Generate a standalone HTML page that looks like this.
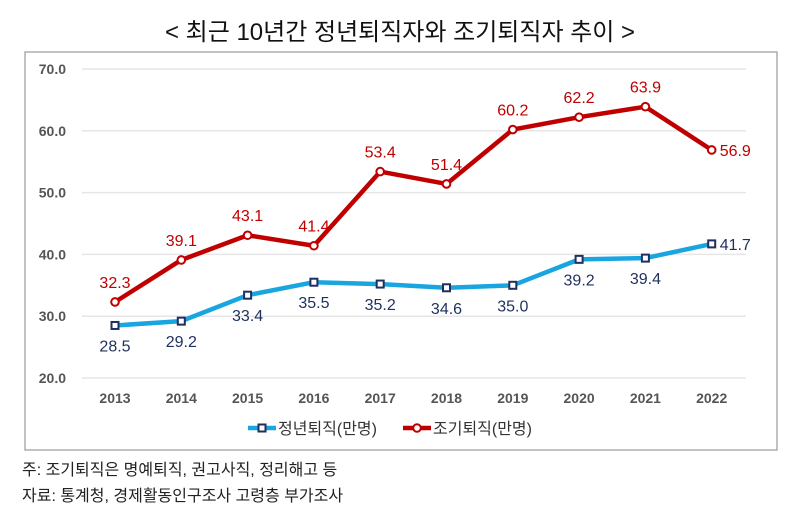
<!DOCTYPE html>
<html><head><meta charset="utf-8"><style>
body{margin:0;background:#fff;width:800px;height:518px;overflow:hidden;font-family:"Liberation Sans","Noto Sans CJK KR",sans-serif;}
.t{position:absolute;white-space:nowrap;}
</style></head><body>
<div class="t" style="left:0;width:800px;text-align:center;top:12px;font-size:24px;color:#111;">&lt; 최근 10년간 정년퇴직자와 조기퇴직자 추이 &gt;</div>
<svg width="800" height="518" style="position:absolute;left:0;top:0" id="chart">
<rect x="25" y="52" width="752" height="398" fill="#fff" stroke="#999" stroke-width="1.2"/>
</svg>
<div class="t" style="left:22px;top:456px;font-size:16px;color:#222;">주: 조기퇴직은 명예퇴직, 권고사직, 정리해고 등</div>
<div class="t" style="left:22px;top:482px;font-size:16px;color:#222;">자료: 통계청, 경제활동인구조사 고령층 부가조사</div>
<script>
const years=["2013","2014","2015","2016","2017","2018","2019","2020","2021","2022"];
const retire=[28.5,29.2,33.4,35.5,35.2,34.6,35.0,39.2,39.4,41.7];
const early=[32.3,39.1,43.1,41.4,53.4,51.4,60.2,62.2,63.9,56.9];
const yTicks=[20,30,40,50,60,70];
const svg=document.getElementById('chart');const NS='http://www.w3.org/2000/svg';
const x=i=>115+i*66.3;const y=v=>378-(v-20)*6.18;
function mk(t,a){const e=document.createElementNS(NS,t);for(const k in a)e.setAttribute(k,a[k]);svg.appendChild(e);return e;}
yTicks.forEach(v=>{const g=mk('line',{x1:82,x2:746,y1:y(v),y2:y(v),stroke:'#e6e6e6','stroke-width':1.5});


const t=mk('text',{x:66,y:y(v)+5,'text-anchor':'end','font-size':14,'font-weight':'bold',fill:'#555'});t.textContent=v.toFixed(1);

});
years.forEach((yr,i)=>{const t=mk('text',{x:x(i),y:403,'text-anchor':'middle','font-size':14,'font-weight':'bold',fill:'#555'});t.textContent=yr;

});
function series(vals,color,mark,name,above){
const l=mk('polyline',{points:vals.map((v,i)=>x(i)+','+y(v)).join(' '),fill:'none',stroke:color,'stroke-width':4.5,'stroke-linejoin':'round'});


vals.forEach((v,i)=>{let m;
if(mark==='sq'){m=mk('rect',{x:x(i)-3.5,y:y(v)-3.5,width:7,height:7,fill:'#fff',stroke:'#1f2f5f','stroke-width':2});}
else{m=mk('circle',{cx:x(i),cy:y(v),r:3.8,fill:'#fff',stroke:'#c00000','stroke-width':2});}


const last=i===vals.length-1;
const t=mk('text',{x:last?x(i)+8:x(i),y:last?y(v)+6:(above?y(v)-14:y(v)+26),'text-anchor':last?'start':'middle','font-size':16,fill:above?'#c00000':'#1f2f5f'});
t.textContent=v.toFixed(1);

});}
series(retire,'#19a5e0','sq','retirement',false);
series(early,'#c00000','ci','early-retirement',true);
// legend
const lg=[[248,'#19a5e0','sq','정년퇴직(만명)'],[403,'#c00000','ci','조기퇴직(만명)']];
lg.forEach(([lx,c,m,txt])=>{const l=mk('line',{x1:lx,x2:lx+28,y1:428,y2:428,stroke:c,'stroke-width':4.5});


const mm=m==='sq'?mk('rect',{x:lx+10.5,y:424.5,width:7,height:7,fill:'#fff',stroke:'#1f2f5f','stroke-width':2}):mk('circle',{cx:lx+14,cy:428,r:3.8,fill:'#fff',stroke:'#c00000','stroke-width':2});


const t=mk('text',{x:lx+30,y:434,'font-size':16,fill:'#333'});t.textContent=txt;

});
</script>
</body></html>
